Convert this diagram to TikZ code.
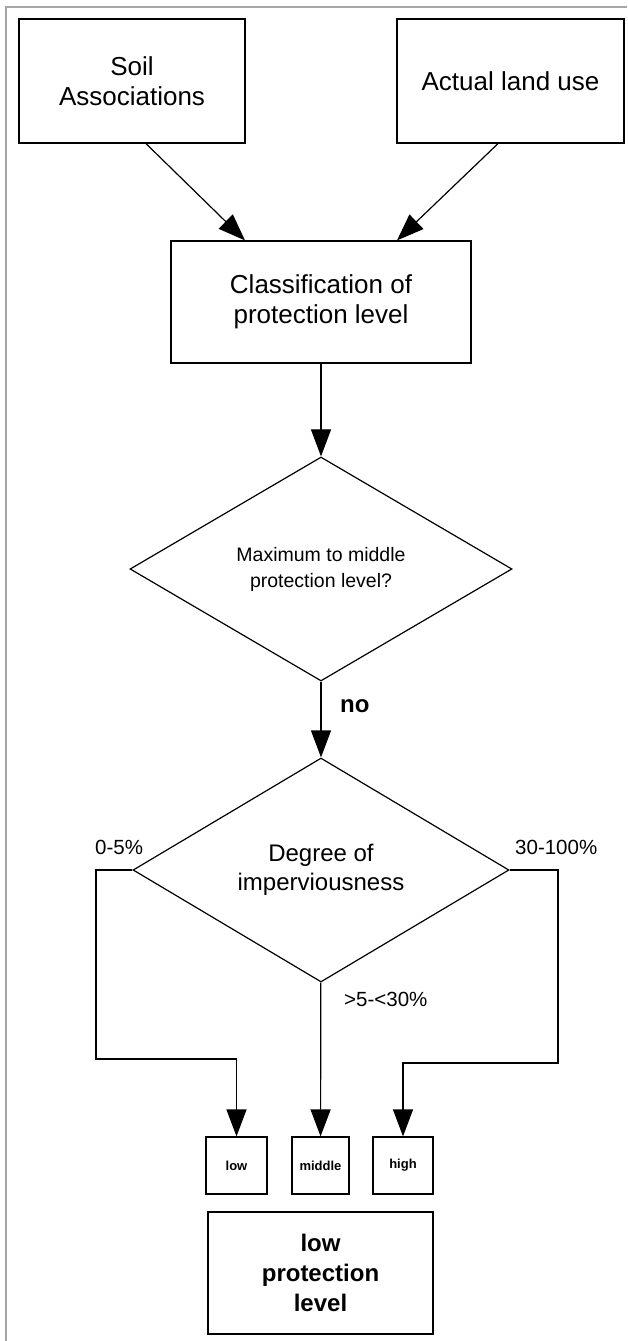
\documentclass[tikz,border=0pt]{standalone}
\usepackage{fontspec}
\setmainfont{Liberation Sans}
\usetikzlibrary{arrows.meta,shapes.geometric}
\tikzset{
  box/.style={draw, line width=1.2pt, inner sep=0pt, align=center},
  choice/.style={draw, diamond, line width=1.2pt, inner sep=0pt, align=center},
  flow/.style={line width=1.2pt, -{Triangle[length=27pt,width=20pt]}},
  big/.style={font=\fontsize{26}{30}\selectfont},
  small/.style={font=\bfseries\fontsize{13}{15}\selectfont},
  lbl/.style={anchor=base west, inner sep=0pt, font=\fontsize{20.5}{24}\selectfont}
}
\begin{document}
\begin{tikzpicture}[x=1pt, y=-1pt]
  \useasboundingbox (0,0) rectangle (627,1341);
  \draw[black!35, line width=2pt] (6,1341) -- (6,7) -- (627,7);
  \draw (132,81) node (soil) [box, big, minimum width=226pt, minimum height=124pt] {Soil\\Associations}
        (510.5,81) node (land) [box, big, minimum width=227pt, minimum height=124pt] {Actual land use}
        (321,302) node (class) [box, big, minimum width=300pt, minimum height=122pt] {Classification of\\protection level};
  \draw (321,569) node (max) [choice, minimum width=382pt, minimum height=224pt,
          font=\fontsize{19.5}{26}\selectfont] {Maximum to middle\\protection level?}
        (321,870) node (deg) [choice, minimum width=376pt, minimum height=224pt,
          font=\fontsize{24}{29}\selectfont] {Degree of\\imperviousness};
  \draw (236.5,1165.5) node (low) [box, small, minimum width=61pt, minimum height=57pt] {low}
        (320.5,1165.5) node (mid) [box, small, minimum width=57pt, minimum height=57pt] {middle}
        (403,1165.5) node (high) [box, small, minimum width=60pt, minimum height=57pt] {high}
        (320.5,1273) node (result) [box, minimum width=225pt, minimum height=122pt,
          font=\bfseries\fontsize{24}{30}\selectfont] {low\\protection\\level};
  \coordinate (lbend) at (96,1059);
  \coordinate (rbend) at (558,1063);
  \draw[flow] ([xshift=14pt]soil.south) -- ([xshift=-76pt]class.north);
  \draw[flow] ([xshift=-12.5pt]land.south) -- ([xshift=76pt]class.north);
  \draw[flow] (class) -- (max);
  \draw[flow] (max) -- (deg);
  \draw[flow] (deg.west) -| (lbend) -| (low.north);
  \draw[flow] (deg) -- (mid);
  \draw[flow] (deg.east) -| (rbend) -| (high.north);
  \draw (340,712) node (no) [lbl, font=\bfseries\fontsize{24}{28}\selectfont] {no}
        (95,854) node (lowpct) [lbl] {0-5\%}
        (515,854) node (highpct) [lbl] {30-100\%}
        (344,1006) node (midpct) [lbl] {>5-<30\%};
\end{tikzpicture}
\end{document}
